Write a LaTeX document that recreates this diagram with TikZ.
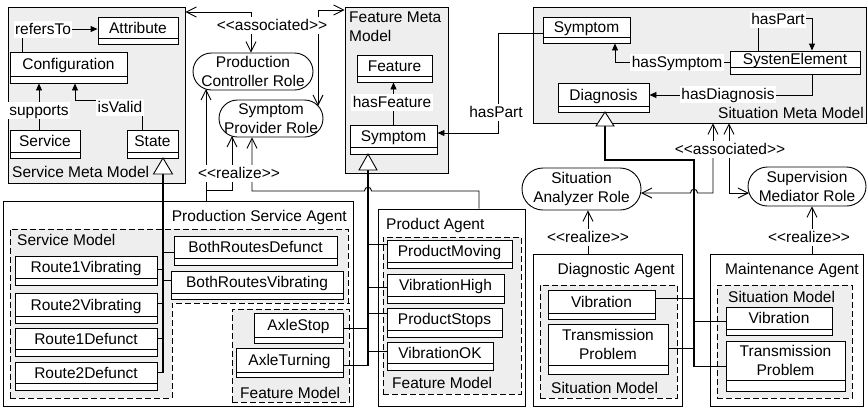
\documentclass[tikz,border=0pt]{standalone}
\usepackage{fontspec}
\newfontfamily\arialf{Liberation Sans}
\usetikzlibrary{arrows.meta,fit}
\definecolor{pkgc}{RGB}{238,238,238}
\newcommand\myfs{\arialf\fontsize{15.5pt}{18.5pt}\selectfont}
\newcommand\umlcls[7]{%
  \node[clsbox, fit={(#2,#3) (#4,#6)}] (#1) {};
  \draw[thinln] (#2,#5) -- (#4,#5);
  \node[clstxt] (#1-t) at ({(#2+#4)/2},{(#3+#5)/2}) {#7};
}
\newcommand\umlclsb[7]{%
  \node[clsbox, fit={(#2,#3) (#4,#6)}] (#1) {};
  \draw[thinln] (#2,#5) -- (#4,#5);
  \node[inner sep=0pt, align=center] (#1-t) at ({(#2+#4)/2},{(#3+#5)/2}) {#7};
}
\begin{document}
\begin{tikzpicture}[x=1pt,y=-1pt,
  every node/.style={font=\myfs},
  pkg/.style={draw=black, fill=pkgc, line width=0.9pt, inner sep=0pt},
  subpkg/.style={draw=black, fill=pkgc, line width=0.9pt, dash pattern=on 6pt off 3pt, inner sep=0pt},
  agentbox/.style={draw=black, fill=white, line width=0.9pt, inner sep=0pt},
  clsbox/.style={draw=black, fill=white, inner sep=0pt, line width=0.9pt},
  clstxt/.style={inner sep=0pt, text height=12.5pt, text depth=1.5pt},
  lbl/.style={fill=white, inner sep=1.5pt, text height=12.5pt, text depth=1.5pt},
  pkgtxt/.style={inner sep=0pt},
  rolebox/.style={draw=black, fill=white, line width=0.9pt, align=center, inner sep=0pt},
  thinln/.style={line width=0.9pt},
  assoc/.style={thinln, -{Triangle[length=7pt,width=6pt]}},
  dep/.style={thinln, -{Straight Barb[length=10pt,width=10pt]}},
  gen/.style={line width=2.2pt},
  gentri/.style={draw=black, fill=white, line width=0.9pt}
]
\useasboundingbox (0,0) rectangle (868,408);

% ---------- meta model packages ----------
\node[pkg, fit={(8,7) (185,183)}] (smm) {};
\node[pkg, fit={(345,7) (448,173)}] (fmm) {};
\node[pkg, fit={(533,7) (866,123)}] (sitmm) {};
\node[pkgtxt, anchor=base west] (smm-l) at (12,177.5) {Service Meta Model};
\node[pkgtxt, anchor=north west, align=left] (fmm-l) at (349,12) {Feature Meta\\Model};
\node[pkgtxt, anchor=base east] (sitmm-l) at (864,118) {Situation Meta Model};

% ---------- agents ----------
\node[agentbox, fit={(3,201) (353,406)}] (psa) {};
\node[agentbox, fit={(378,209) (525,406)}] (pa) {};
\node[agentbox, fit={(533,254) (682,406)}] (da) {};
\node[agentbox, fit={(710,254) (863,406)}] (ma) {};
\node[pkgtxt, anchor=base east] (psa-l) at (347,221) {Production Service Agent};
\node[pkgtxt, anchor=base west] (pa-l) at (386,229) {Product Agent};
\node[pkgtxt, anchor=base east] (da-l) at (675,274) {Diagnostic Agent};
\node[pkgtxt, anchor=base east] (ma-l) at (859,274) {Maintenance Agent};

% ---------- sub packages ----------
\node[subpkg, fit={(10,229) (348,398)}] (svm) {};
\fill[white] (172,303) rectangle (352,399);
\draw[thinln, dash pattern=on 6pt off 3pt] (172,398) -- (172,303) -- (350,303);
\node[subpkg, fit={(232,309) (349,402)}] (psafm) {};
\node[subpkg, fit={(383,237) (521,394)}] (pafm) {};
\node[subpkg, fit={(540,285) (677,398)}] (dasm) {};
\node[subpkg, fit={(717,285) (852,398)}] (masm) {};
\node[pkgtxt, anchor=base west] (svm-l) at (17,245) {Service Model};
\node[pkgtxt, anchor=base west] (psafm-l) at (240,398) {Feature Model};
\node[pkgtxt, anchor=base west] (pafm-l) at (392,388) {Feature Model};
\node[pkgtxt, anchor=base west] (dasm-l) at (551,393) {Situation Model};
\node[pkgtxt, anchor=base west] (masm-l) at (728,302) {Situation Model};

% ---------- classes ----------
\umlcls{attr}{98}{17}{178}{38}{44}{Attribute}
\umlcls{conf}{10}{52}{127}{76}{83}{Configuration}
\umlcls{serv}{10}{130}{80}{152}{158}{Service}
\umlcls{state}{127}{130}{178}{152}{158}{State}
\umlcls{feat}{357}{55}{432}{76}{82}{Feature}
\umlcls{fsym}{350}{125}{437}{147}{154}{Symptom}
\umlcls{ssym}{543}{17}{630}{37}{43}{Symptom}
\umlcls{sysel}{730}{51}{860}{67}{74}{SystenElement}
\umlcls{diag}{558}{83}{649}{106}{112}{Diagnosis}
\umlcls{r1v}{15}{256}{157}{278}{285}{Route1Vibrating}
\umlcls{r2v}{15}{293}{157}{316}{323}{Route2Vibrating}
\umlcls{r1d}{15}{328}{157}{349}{356}{Route1Defunct}
\umlcls{r2d}{15}{362}{157}{383}{390}{Route2Defunct}
\umlcls{brd}{174}{236}{337}{258}{265}{BothRoutesDefunct}
\umlcls{brv}{171}{271}{343}{293}{299}{BothRoutesVibrating}
\umlcls{axs}{254}{313}{343}{337}{343}{AxleStop}
\umlcls{axt}{236}{348}{343}{372}{377}{AxleTurning}
\umlcls{pm}{387}{240}{512}{262}{268}{ProductMoving}
\umlcls{vh}{387}{274}{504}{296}{303}{VibrationHigh}
\umlcls{ps}{387}{308}{502}{330}{337}{ProductStops}
\umlcls{vok}{387}{342}{493}{363}{370}{VibrationOK}
\umlcls{dvib}{548}{290}{655}{313}{319}{Vibration}
\umlclsb{dtp}{548}{324}{668}{365}{374}{Transmission\\Problem}
\umlcls{mvib}{726}{307}{832}{329}{335}{Vibration}
\umlclsb{mtp}{726}{341}{845}{380}{391}{Transmission\\Problem}

% ---------- roles ----------
\node[rolebox, minimum width=120pt, minimum height=37pt, rounded corners=18.5pt] (pcr) at (253,71.5) {Production\\Controller Role};
\node[rolebox, minimum width=104pt, minimum height=37pt, rounded corners=18.5pt] (spr) at (271,118.5) {Symptom\\Provider Role};
\node[rolebox, minimum width=119pt, minimum height=42pt, rounded corners=21pt] (sar) at (581.5,189) {Situation\\Analyzer Role};
\node[rolebox, minimum width=118pt, minimum height=39pt, rounded corners=19.5pt] (smr) at (807,186.5) {Supervision\\Mediator Role};

% ---------- associations inside meta models ----------
\draw[assoc] (22,0 |- conf.north) -- (22,29) -- (attr.west |- 0,29);
\draw[assoc] (39,0 |- serv.north) -- (39,0 |- conf.south);
\draw[assoc] (142,0 |- state.north) -- (142,100) -- (75,100) -- (75,0 |- conf.south);
\draw[assoc] (fsym.north) -- (fsym.north |- feat.south);
\draw[assoc] (ssym.west |- 0,33) -- (498,33) -- (498,133) -- (fsym.east |- 0,133);
\draw[assoc] (758,0 |- sysel.north) -- (758,18) -- (812,18) -- (812,0 |- sysel.north);
\draw[assoc] (sysel.west) -- (615,0 |- sysel.west) -- (615,0 |- ssym.south);
\draw[assoc] (812,0 |- sysel.south) -- (812,95) -- (diag.east |- 0,95);

% ---------- generalizations ----------
\draw[gen] (163,173) -- (163,373);
\draw[gentri] (163,158) -- (172.5,174) -- (153.5,174) -- cycle;
\draw[gen] (368,170) -- (368,366);
\draw[gentri] (368,154) -- (377,170) -- (359,170) -- cycle;
\draw[gen] (605,126) -- (605,160) -- (694,160) -- (694,367);
\draw[gentri] (605,112) -- (614,126) -- (596,126) -- cycle;

\draw[thinln] (163,252) -- (brd.west |- 0,252);
\draw[thinln] (163,280) -- (brv.west |- 0,280);
\draw[thinln] (r1v.east |- 0,269) -- (163,269);
\draw[thinln] (r2v.east |- 0,303) -- (163,303);
\draw[thinln] (r1d.east |- 0,338) -- (163,338);
\draw[thinln] (r2d.east |- 0,372) -- (163,372);

\draw[thinln] (368,244) -- (pm.west |- 0,244);
\draw[thinln] (368,287) -- (vh.west |- 0,287);
\draw[thinln] (368,313) -- (ps.west |- 0,313);
\draw[thinln] (368,351) -- (vok.west |- 0,351);
\draw[thinln] (axs.east |- 0,328) -- (368,328);
\draw[thinln] (axt.east |- 0,365) -- (368,365);

\draw[thinln] (dvib.east |- 0,298) -- (694,298);
\draw[thinln] (694,321) -- (mvib.west |- 0,321);
\draw[thinln] (dtp.east |- 0,348) -- (694,348);
\draw[thinln] (694,366) -- (mtp.west |- 0,366);

% ---------- associated / realize ----------
\draw[dep] (251,25) -- (251,12) -- (smm.east |- 0,12);
\draw[dep] (251,25) -- (251,0 |- pcr.north);
\draw[dep] (318,25) -- (318,10) -- (fmm.west |- 0,10);
\draw[dep] (318,25) -- (318,106);

\draw[dep] (206,0 |- psa.north) -- (206,89);
\draw[dep] (206,190) -- (232,190) -- (232,136);
\draw[dep] (479,0 |- pa.north) -- (479,191) -- (371.5,191) .. controls (371.5,186) and (364.5,186) .. (364.5,191) -- (252,191) -- (252,0 |- spr.south);

\draw[dep] (713,150) -- (713,0 |- sitmm.south);
\draw[dep] (729,150) -- (729,0 |- sitmm.south);
\draw[dep] (713,150) -- (713,193) -- (697.5,193) .. controls (697.5,188) and (690.5,188) .. (690.5,193) -- (641,193);
\draw[dep] (729,150) -- (729,193) -- (749,193);

\draw[dep] (588,0 |- da.north) -- (588,0 |- sar.south);
\draw[dep] (812,0 |- ma.north) -- (812,0 |- smr.south);

% ---------- labels ----------
\node[lbl] (l-refers) at (43,29) {refersTo};
\node[lbl] (l-supports) at (39,110) {supports};
\node[lbl] (l-isvalid) at (120,107) {isValid};
\node[lbl] (l-hasfeat) at (392,102) {hasFeature};
\node[lbl] (l-haspart1) at (496,112) {hasPart};
\node[lbl] (l-haspart2) at (778,19) {hasPart};
\node[lbl] (l-hassym) at (677,62) {hasSymptom};
\node[lbl] (l-hasdiag) at (728,94) {hasDiagnosis};
\node[lbl] (l-assoc1) at (272,25) {<<associated>>};
\node[lbl] (l-real1) at (239,173) {<<realize>>};
\node[lbl] (l-assoc2) at (730,149) {<<associated>>};
\node[lbl] (l-real2) at (588,237) {<<realize>>};
\node[lbl] (l-real3) at (809,237) {<<realize>>};
\end{tikzpicture}
\end{document}
